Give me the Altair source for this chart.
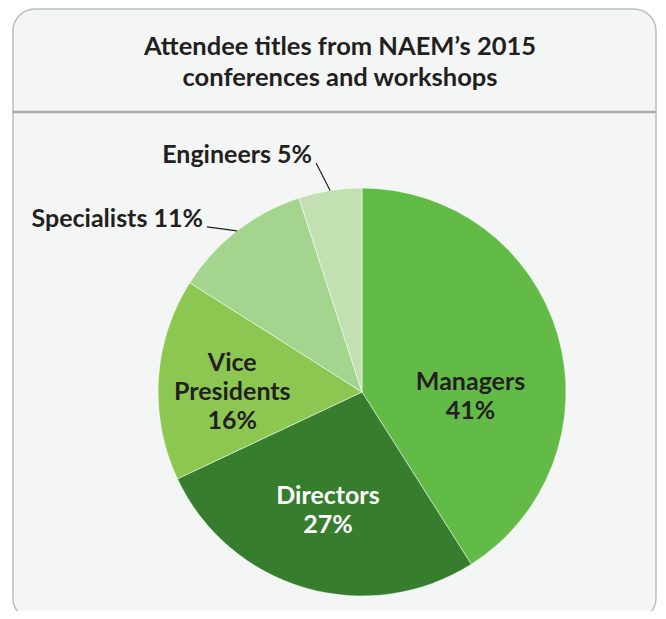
import altair as alt
import pandas as pd

# ---- data ----
categories = ["Managers", "Directors", "Vice Presidents", "Specialists", "Engineers"]
shares = [41, 27, 16, 11, 5]
label_lines = [["Managers", "41%"], ["Directors", "27%"], ["Vice", "Presidents", "16%"],
               ["Specialists 11%"], ["Engineers 5%"]]
slice_colors = ["#62bb47", "#367e2e", "#8cc751", "#a5d48f", "#c3e0b2"]
title_lines = ["Attendee titles from NAEM\u2019s 2015", "conferences and workshops"]

df = pd.DataFrame({
    "category": categories,
    "share": shares,
    "label": label_lines,
    "order": list(range(len(categories))),
})

R = 204          # pie radius (px)
SIZE = 2 * R     # view is a square holding the pie
FONT = "Lato"
DARK = "#231f20"
LABEL_SIZE = 25

xs = alt.Scale(domain=[-R, R], range=[0, SIZE])
ys = alt.Scale(domain=[-R, R], range=[0, SIZE])

base = (
    alt.Chart(df)
    .transform_window(cum="sum(share)", sort=[alt.SortField("order")])
    .transform_joinaggregate(total="sum(share)")
    .transform_calculate(
        start="(datum.cum - datum.share) / datum.total * 2 * PI",
        end="datum.cum / datum.total * 2 * PI",
        mid="(datum.cum - datum.share / 2) / datum.total * 2 * PI",
    )
)

one = alt.Data(values=[{}])

# card background + separator + title (decoration)
card = alt.Chart(one).mark_rect(
    fill="#f4f5f5", stroke="#bdbdbd", strokeWidth=1.5, cornerRadius=22
).encode(
    x=alt.value(-145), x2=alt.value(498), y=alt.value(-179), y2=alt.value(432)
)
sep = alt.Chart(one).mark_rule(stroke="#aaaaaa", strokeWidth=2.5).encode(
    x=alt.value(-145), x2=alt.value(498), y=alt.value(-76)
)
title = alt.Chart(one).mark_text(
    text=title_lines, font=FONT, fontSize=25.5, fontWeight="bold", color=DARK,
    align="center", baseline="alphabetic", lineHeight=31
).encode(x=alt.value(182), y=alt.value(-133))

arcs = base.mark_arc(outerRadius=R, stroke="#ffffff", strokeWidth=0.5).encode(
    theta=alt.Theta("start:Q", scale=None),
    theta2="end:Q",
    color=alt.Color("category:N", scale=alt.Scale(domain=categories, range=slice_colors), legend=None),
)


def inside(name, radius, dx, dy, color):
    return base.transform_filter(alt.datum.category == name).mark_text(
        radius=radius, dx=dx, dy=dy, font=FONT, fontSize=LABEL_SIZE, fontWeight="bold",
        color=color, align="center", baseline="middle", lineHeight=29
    ).encode(theta=alt.Theta("mid:Q", scale=None), text="label")


def outside(name, ox, oy):
    b = base.transform_filter(alt.datum.category == name).transform_calculate(
        ex=f"{R} * sin(datum.mid)",
        ey=f"-{R} * cos(datum.mid)",
    ).transform_calculate(
        ox=f"datum.ex + ({ox})",
        oy=f"datum.ey + ({oy})",
    )
    rule = b.mark_rule(stroke=DARK, strokeWidth=1.2).encode(
        x=alt.X("ex:Q", scale=xs, axis=None),
        y=alt.Y("ey:Q", scale=ys, axis=None),
        x2="ox:Q", y2="oy:Q",
    )
    txt = b.mark_text(
        dx=-4, dy=-8, font=FONT, fontSize=LABEL_SIZE, fontWeight="bold", color=DARK,
        align="right", baseline="middle"
    ).encode(
        x=alt.X("ox:Q", scale=xs, axis=None),
        y=alt.Y("oy:Q", scale=ys, axis=None),
        text="label",
    )
    return rule + txt


chart = alt.layer(
    card, sep, title, arcs,
    inside("Managers", 112, 1, 21.5, DARK),
    inside("Directors", 122, 0, -13.5, "#ffffff"),
    inside("Vice Presidents", 130, 0, -20.5, DARK),
    outside("Specialists", -30, -4),
    outside("Engineers", -14, -27.5),
).properties(
    width=SIZE, height=SIZE,
    autosize=alt.AutoSizeParams(type="none"),
    padding={"left": 150, "top": 180, "right": 92, "bottom": 15},
    background="#ffffff",
).configure_view(stroke=None)

chart.save("out.html", embed_options={"renderer": "svg", "actions": False})
